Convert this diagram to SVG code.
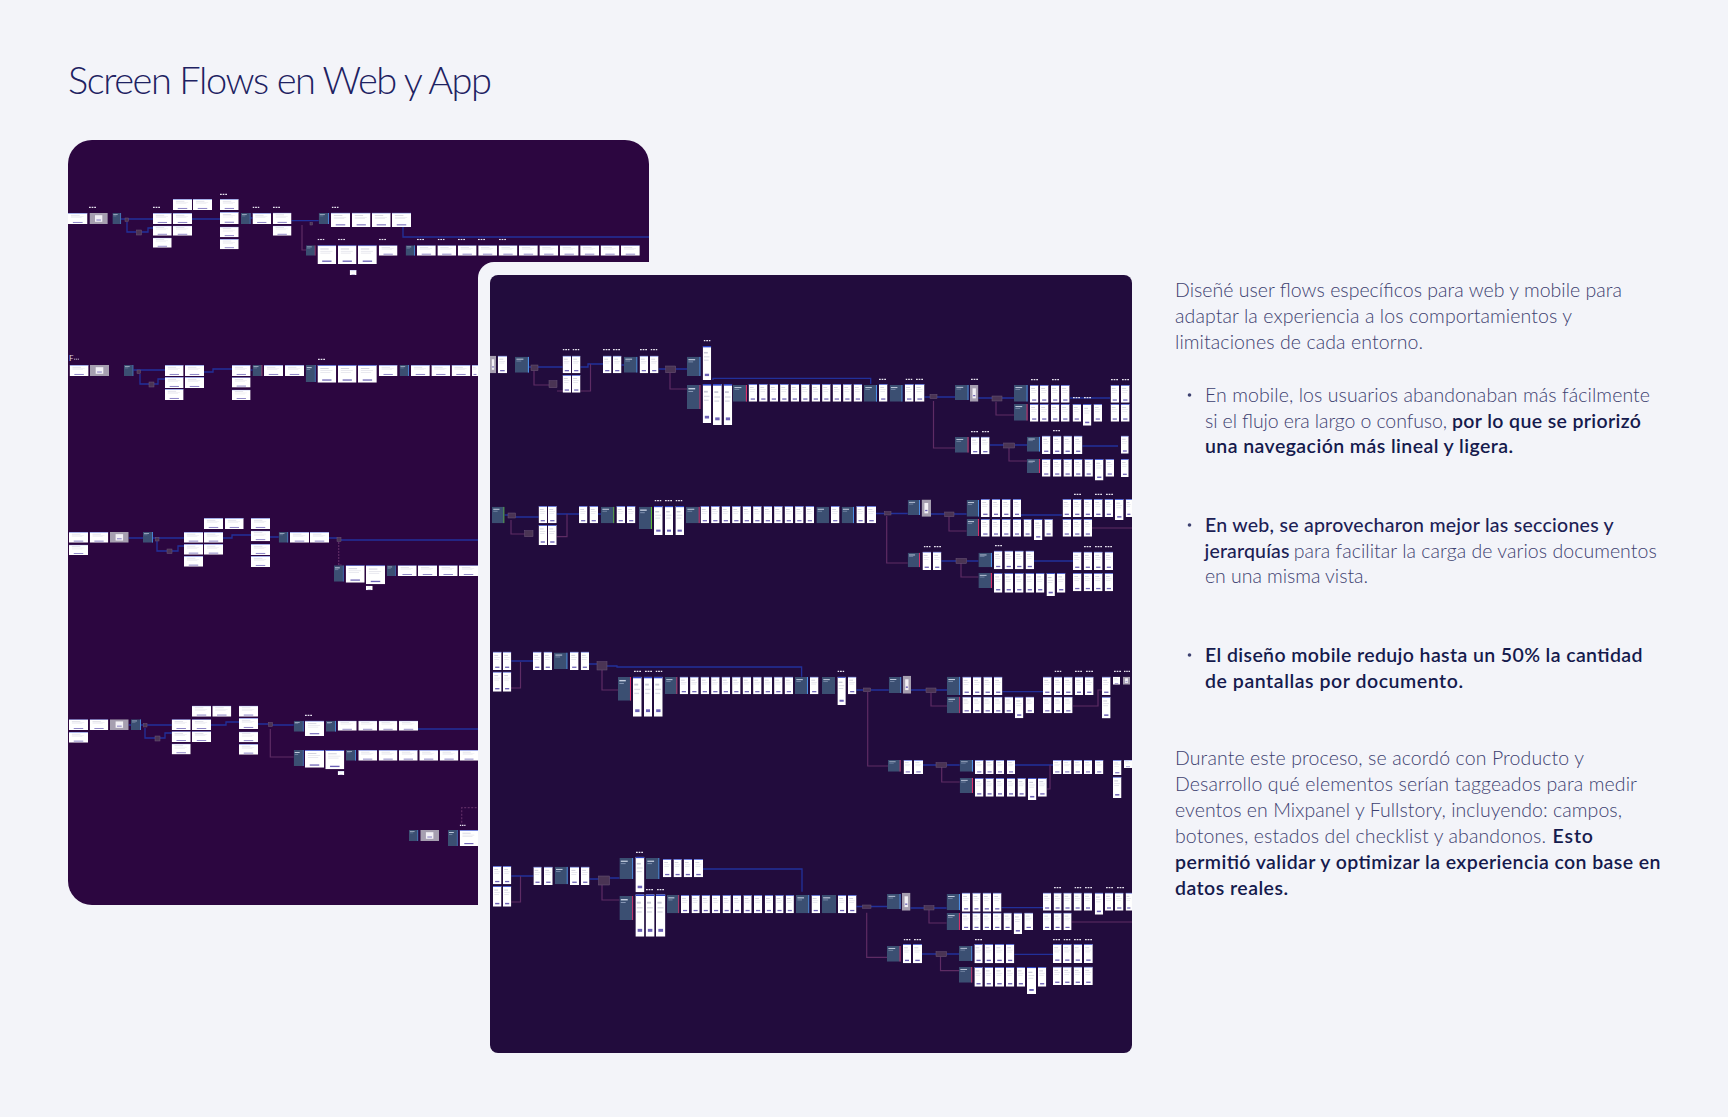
<svg xmlns="http://www.w3.org/2000/svg" width="1728" height="1117" viewBox="0 0 1728 1117">
<style>
.t{font-family:Lato,"Open Sans","Liberation Sans",sans-serif}
.r{font-size:19.5px;font-weight:300;fill:#3d4170}
.b{font-size:19.5px;font-weight:600;fill:#151a4d}
.m{font-size:19.5px;font-weight:500;fill:#1c2155}
.lb{stroke:#22309a;stroke-width:1.3;fill:none}
.lp{stroke:#5e2c64;stroke-width:1.2;fill:none}
.dn{fill:#4a3454;stroke:#6e5878;stroke-width:.5}
.dt{fill:#e6e2ee}
</style>
<defs>
<symbol id="w" viewBox="0 0 20 20" preserveAspectRatio="none">
<rect width="20" height="20" fill="#fff"/>
<rect width="20" height="0.8" fill="#2f45c8"/>
<rect x="3" y="3.5" width="9" height="0.9" fill="#c9c9d6"/>
<rect x="3" y="6" width="13" height="0.7" fill="#dcdce6"/>
<rect x="3" y="8" width="11" height="0.7" fill="#dcdce6"/>
<rect x="5" y="16.3" width="10" height="1.4" fill="#6b60b5"/>
</symbol>
<symbol id="g" viewBox="0 0 20 20" preserveAspectRatio="none">
<rect width="20" height="20" fill="#a69fb0"/>
<rect x="6" y="4" width="8" height="12" fill="#f2f0f5"/>
<rect x="7.5" y="12" width="5" height="1.5" fill="#6b60b5"/>
</symbol>
<symbol id="h" viewBox="0 0 20 20" preserveAspectRatio="none">
<rect width="20" height="20" fill="#3b4f72"/>
<rect x="2" y="2.5" width="10" height="1.2" fill="#c5cfe0"/>
<rect x="2" y="5" width="7" height="0.8" fill="#8a9ab8"/>
</symbol>
<symbol id="hB" viewBox="0 0 20 20" preserveAspectRatio="none">
<rect width="20" height="20" fill="#3b4f72"/>
<rect x="2" y="2.5" width="10" height="1.2" fill="#c5cfe0"/>
<rect x="2" y="5" width="7" height="0.8" fill="#8a9ab8"/>
<rect x="18.4" width="1.6" height="20" fill="#4d8fe6"/>
</symbol>
<symbol id="hR" viewBox="0 0 20 20" preserveAspectRatio="none">
<rect width="20" height="20" fill="#3b4f72"/>
<rect x="2" y="2.5" width="10" height="1.2" fill="#c5cfe0"/>
<rect x="2" y="5" width="7" height="0.8" fill="#8a9ab8"/>
<rect x="18.4" width="1.6" height="20" fill="#d8306a"/>
</symbol>
<symbol id="hG" viewBox="0 0 20 20" preserveAspectRatio="none">
<rect width="20" height="20" fill="#3b4f72"/>
<rect x="2" y="2.5" width="10" height="1.2" fill="#c5cfe0"/>
<rect x="2" y="5" width="7" height="0.8" fill="#8a9ab8"/>
<rect x="18.4" width="1.6" height="20" fill="#5fb83a"/>
</symbol>
<symbol id="d" viewBox="0 0 8 2" preserveAspectRatio="none">
<rect width="2" height="2" fill="#e6e2ee"/><rect x="3" width="2" height="2" fill="#e6e2ee"/><rect x="6" width="2" height="2" fill="#e6e2ee"/>
</symbol>
</defs>

<rect id="page-bg" width="1728" height="1117" fill="#f3f4f9"/>

<g id="title">
<text class="t" x="68" y="94" font-size="38" font-weight="300" fill="#1e2262" textLength="424">Screen Flows en Web y App</text>
</g>

<!-- WEB PANEL -->
<g id="panel-web">
<rect x="68" y="140" width="581" height="765" rx="24" fill="#2c0640"/>
<g id="web-connectors">
<path class="lb" d="M121 219H153M127 222V232H136M141.5 232H148V228H153M192 219H220M250.6 218H252.5M291.5 220.7H318.7M403 227V237H649"/>
<path class="lp" d="M302 225V250H306"/>
<path class="lb" d="M133.5 370H165M140 374V384H149M154 384H158V379H165M204 372H213V369H232M250.6 370H252.5"/>
<path class="lb" d="M128.7 538H143M153 538H184M157 541V551H167M172 551H178V546H184M223 538H232V535H251M270 537H278.7M329 538H337M341 540H478"/>
<path class="lp" d="M338.7 542V565H342" stroke-dasharray="2 1"/>
<path class="lb" d="M128.7 725H131M141 725H171.7M145 728V738H155M160 738H165V733H171.7M211 725H226V722H239M258 724H268.5M272.5 725H293.7M418 729H478"/>
<path class="lp" d="M270.3 729V757H293.7"/>
<path class="lp" d="M461.7 822.7V807.7H478" stroke-dasharray="2 1.5"/>
</g>
<g id="web-screens">
<use href="#w" x="68" y="213" width="19.5" height="11"/>
<use href="#g" x="89.5" y="213" width="18.3" height="11"/>
<use href="#hB" x="112.4" y="213" width="8.8" height="11"/>
<rect class="dn" x="125" y="218" width="3.5" height="3.5"/>
<rect class="dn" x="136.5" y="230" width="5" height="5"/>
<use href="#w" x="153" y="213" width="18.7" height="11"/>
<use href="#w" x="153" y="225.7" width="18.7" height="10"/>
<use href="#w" x="153" y="237.7" width="18.7" height="10"/>
<use href="#w" x="173" y="199" width="19" height="11"/>
<use href="#w" x="173" y="213" width="19" height="11"/>
<use href="#w" x="173" y="225.7" width="19" height="10"/>
<use href="#w" x="193" y="199" width="19" height="11"/>
<use href="#w" x="220" y="199" width="18.7" height="11"/>
<use href="#w" x="220" y="212" width="18.7" height="12"/>
<use href="#w" x="220" y="226.7" width="18.7" height="10.6"/>
<use href="#w" x="220" y="239" width="18.7" height="10.3"/>
<use href="#hB" x="241" y="213" width="9.6" height="11"/>
<use href="#w" x="252.5" y="213" width="18.5" height="11"/>
<use href="#w" x="272.8" y="212.7" width="18.7" height="11.3"/>
<use href="#w" x="272.8" y="225.7" width="18.7" height="10"/>
<rect class="dn" x="310" y="222.5" width="2.5" height="2.5"/>
<use href="#hB" x="318.7" y="213" width="10.3" height="11"/>
<use href="#w" x="331" y="212.7" width="19" height="14.3"/>
<use href="#w" x="352" y="212.7" width="18.5" height="14.3"/>
<use href="#w" x="372" y="212.7" width="18.7" height="14.3"/>
<use href="#w" x="392" y="212.7" width="19" height="14.3"/>
<use href="#d" x="89" y="206.5" width="7" height="1.5"/>
<use href="#d" x="153" y="206.5" width="7" height="1.5"/>
<use href="#d" x="220" y="193.5" width="7" height="1.5"/>
<use href="#d" x="252.5" y="206.5" width="7" height="1.5"/>
<use href="#d" x="273" y="206.5" width="7" height="1.5"/>
<use href="#d" x="331.7" y="206.5" width="7" height="1.5"/>
<use href="#hR" x="306" y="245.3" width="9.6" height="10.4"/>
<use href="#w" x="317.5" y="245.3" width="18.7" height="18.7"/>
<use href="#w" x="338" y="245.3" width="18.5" height="18.7"/>
<use href="#w" x="358" y="245.3" width="18.8" height="18.7"/>
<use href="#w" x="378.8" y="245.3" width="18.7" height="10.4"/>
<use href="#hB" x="405.6" y="245.3" width="9.4" height="10.4"/>
<use href="#w" x="417" y="245.3" width="18.8" height="10.4"/>
<use href="#w" x="437.4" y="245.3" width="18.8" height="10.4"/>
<use href="#w" x="457.8" y="245.3" width="18.8" height="10.4"/>
<use href="#w" x="478.2" y="245.3" width="18.8" height="10.4"/>
<use href="#w" x="498.6" y="245.3" width="18.8" height="10.4"/>
<use href="#w" x="519" y="245.3" width="18.8" height="10.4"/>
<use href="#w" x="539.4" y="245.3" width="18.8" height="10.4"/>
<use href="#w" x="559.8" y="245.3" width="18.8" height="10.4"/>
<use href="#w" x="580.2" y="245.3" width="18.8" height="10.4"/>
<use href="#w" x="600.6" y="245.3" width="18.8" height="10.4"/>
<use href="#w" x="621" y="245.3" width="18.8" height="10.4"/>
<use href="#w" x="349.7" y="270" width="6.9" height="5"/>
<use href="#d" x="317.5" y="238.7" width="7" height="1.5"/>
<use href="#d" x="338" y="238.7" width="7" height="1.5"/>
<use href="#d" x="379" y="238.7" width="7" height="1.5"/>
<use href="#d" x="417" y="238.7" width="7" height="1.5"/>
<use href="#d" x="437.7" y="238.7" width="7" height="1.5"/>
<use href="#d" x="458" y="238.7" width="7" height="1.5"/>
<use href="#d" x="478" y="238.7" width="7" height="1.5"/>
<use href="#d" x="499" y="238.7" width="7" height="1.5"/>
<text class="t" x="69" y="361" font-size="8" fill="#ddd6e6">F</text>
<use href="#d" x="74" y="358.5" width="5" height="1.2"/>
<use href="#w" x="69.6" y="365" width="19" height="11"/>
<use href="#g" x="90" y="365" width="19" height="11"/>
<use href="#hB" x="124" y="365" width="9.5" height="11"/>
<rect class="dn" x="137" y="370" width="3.5" height="3.5"/>
<rect class="dn" x="149" y="382" width="5" height="5"/>
<use href="#w" x="165" y="365" width="18.6" height="11"/>
<use href="#w" x="165" y="377" width="18.6" height="11"/>
<use href="#w" x="165" y="389" width="18.6" height="11"/>
<use href="#w" x="185" y="365" width="19" height="11"/>
<use href="#w" x="185" y="377" width="19" height="11"/>
<use href="#w" x="232" y="365" width="18.6" height="11"/>
<use href="#w" x="232" y="377.3" width="18.6" height="10.3"/>
<use href="#w" x="232" y="389.7" width="18.6" height="10.3"/>
<use href="#hR" x="252.5" y="365" width="10" height="11"/>
<use href="#w" x="264" y="365" width="19" height="11"/>
<use href="#w" x="285" y="365" width="19" height="11"/>
<use href="#hB" x="305.7" y="365" width="10" height="17"/>
<use href="#w" x="317.5" y="365" width="18.7" height="17.7"/>
<use href="#w" x="338" y="365" width="18.5" height="17.7"/>
<use href="#w" x="358" y="365" width="18.8" height="17.7"/>
<use href="#w" x="378.8" y="365" width="18.7" height="11"/>
<use href="#hB" x="399.5" y="365" width="9.5" height="11"/>
<use href="#w" x="411" y="365" width="18.8" height="11"/>
<use href="#w" x="431.4" y="365" width="18.8" height="11"/>
<use href="#w" x="451.6" y="365" width="18.8" height="11"/>
<use href="#w" x="472" y="365" width="6" height="11"/>
<use href="#d" x="318" y="358.5" width="7" height="1.5"/>
<use href="#w" x="69" y="532" width="19" height="10.7"/>
<use href="#w" x="69" y="544.7" width="19" height="10.3"/>
<use href="#w" x="89.7" y="532" width="18.6" height="10.7"/>
<use href="#g" x="110" y="532" width="18.7" height="10.7"/>
<use href="#hB" x="143" y="532" width="10" height="10.7"/>
<rect class="dn" x="155.5" y="537.5" width="3.5" height="3.5"/>
<rect class="dn" x="167" y="549" width="5" height="4.5"/>
<use href="#w" x="184" y="532" width="19" height="10.7"/>
<use href="#w" x="184" y="544" width="19" height="10.7"/>
<use href="#w" x="184" y="556" width="19" height="10.7"/>
<use href="#w" x="204" y="518" width="19" height="11"/>
<use href="#w" x="204" y="532" width="19" height="10.7"/>
<use href="#w" x="204" y="544" width="19" height="10.7"/>
<use href="#w" x="225" y="518" width="18.7" height="11"/>
<use href="#w" x="251" y="518" width="19" height="11"/>
<use href="#w" x="251" y="530.7" width="19" height="10.6"/>
<use href="#w" x="251" y="544" width="19" height="11"/>
<use href="#w" x="251" y="556" width="19" height="11"/>
<use href="#hB" x="278.7" y="532" width="9.6" height="10.7"/>
<use href="#w" x="290" y="532" width="19" height="10.7"/>
<use href="#w" x="310" y="532" width="19" height="10.7"/>
<rect class="dn" x="337" y="537.5" width="4" height="4"/>
<use href="#hB" x="334" y="565.3" width="9.7" height="16.4"/>
<use href="#w" x="345.7" y="565.3" width="19" height="17.4"/>
<use href="#w" x="366" y="565.3" width="19" height="19"/>
<use href="#hB" x="386.7" y="565.3" width="9" height="10.7"/>
<use href="#w" x="397.7" y="565.3" width="19" height="10.7"/>
<use href="#w" x="418" y="565.3" width="19" height="10.7"/>
<use href="#w" x="438.7" y="565.3" width="19" height="10.7"/>
<use href="#w" x="459" y="565.3" width="19" height="10.7"/>
<use href="#w" x="366" y="585.7" width="6.7" height="4.5"/>
<use href="#w" x="69" y="719.3" width="19" height="10.7"/>
<use href="#w" x="69" y="732" width="19" height="10.7"/>
<use href="#w" x="89.7" y="719.3" width="18.6" height="10.7"/>
<use href="#g" x="110" y="719.3" width="18.7" height="10.7"/>
<use href="#hB" x="131" y="719.3" width="10" height="10.7"/>
<rect class="dn" x="143.5" y="723.5" width="3.5" height="3.5"/>
<rect class="dn" x="155" y="736" width="5" height="5"/>
<use href="#w" x="171.7" y="719.3" width="19" height="10.7"/>
<use href="#w" x="171.7" y="731.3" width="19" height="10.7"/>
<use href="#w" x="171.7" y="743.7" width="19" height="10.7"/>
<use href="#w" x="192" y="705.7" width="19" height="11"/>
<use href="#w" x="192" y="719.3" width="19" height="10.7"/>
<use href="#w" x="192" y="731.3" width="19" height="10.7"/>
<use href="#w" x="212.3" y="705.7" width="19" height="11"/>
<use href="#w" x="239" y="705.7" width="19" height="11"/>
<use href="#w" x="239" y="718" width="19" height="11"/>
<use href="#w" x="239" y="731.7" width="19" height="10.6"/>
<use href="#w" x="239" y="744" width="19" height="10.7"/>
<rect class="dn" x="268.5" y="722.5" width="4" height="4"/>
<use href="#hB" x="293.7" y="720.7" width="10" height="11"/>
<use href="#w" x="305" y="720.7" width="19" height="15.3"/>
<use href="#hB" x="326" y="720.7" width="10" height="11"/>
<use href="#w" x="337.7" y="720.7" width="19" height="10"/>
<use href="#w" x="358.3" y="720.7" width="18.7" height="10"/>
<use href="#w" x="378.7" y="720.7" width="18.6" height="10"/>
<use href="#w" x="399" y="720.7" width="19" height="10"/>
<use href="#d" x="305" y="714.5" width="7" height="1.5"/>
<use href="#hB" x="293.7" y="750" width="10" height="16"/>
<use href="#w" x="305" y="750" width="19" height="17.7"/>
<use href="#w" x="325.3" y="750" width="19" height="19.3"/>
<use href="#hB" x="346" y="750" width="10" height="10.7"/>
<use href="#w" x="358.3" y="750" width="18.7" height="10.7"/>
<use href="#w" x="378.7" y="750" width="18.7" height="10.7"/>
<use href="#w" x="399" y="750" width="18.7" height="10.7"/>
<use href="#w" x="419.3" y="750" width="18.7" height="10.7"/>
<use href="#w" x="439.7" y="750" width="18.7" height="10.7"/>
<use href="#w" x="460" y="750" width="18" height="10.7"/>
<use href="#w" x="337.7" y="771" width="6.6" height="4"/>
<use href="#hB" x="409" y="830" width="9.3" height="11"/>
<use href="#g" x="420.3" y="830" width="18.7" height="11"/>
<use href="#hB" x="448" y="830" width="9.7" height="16"/>
<use href="#w" x="459.7" y="830" width="18.3" height="16"/>
<use href="#d" x="459.7" y="824.5" width="6" height="1.5"/>
</g>
</g>

<!-- APP PANEL -->
<g id="panel-app">
<rect x="478" y="262" width="220" height="660" rx="16" fill="#f3f4f9"/>
<rect x="490" y="275" width="642" height="778" rx="8" fill="#220c3d"/>
<g id="app-connectors">
<path class="lb" d="M529 367H531M538 367H562.6M580.5 367H588V364H603M621.5 365H624M658.6 369H665.7M676 369H687M713 380V378.3H870.7V384M924.5 397H930M937 397H955M978.4 398H992M1002 398H1014M1070 398H1110M990 445H1003.7M1015 445H1027M1082.4 446H1118"/>
<path class="lp" d="M534 370.7V385H549M557 391H566M580.5 391H590.5V364M670 372.7V389H687M933.5 401V448H955M996 401.7V415H1014M1009 448V461H1027"/>
<path class="lb" d="M504.5 515H508M515.5 517H538.6M556.7 514H579M598 514H601M876 513.5H884.6M891 513.5H907.7M931 514H944.7M954 514H966.6M1021 515H1062M941.4 561H956M966.6 561H978.4M1034 561H1073"/>
<path class="lp" d="M511 520V534H524.7M556.7 536.7H567V514M949 516.7V531H966.6M1092 528H1132M886.7 516V563H907.7M961 563V577H978.4"/>
<path class="lb" d="M511.3 661H533M589 664H597M607 666H617V667H801.6V676.7M856.4 690H863.5M870.7 690H888.8M911 690H926M936 690H947M1002.4 691.7H1043M923 765H936M946.6 765H959.7M1015 765H1053"/>
<path class="lp" d="M511 688H520.5V662M602 670V690H618M931 693V706H947M1073 706H1098V690H1102M867.7 692V766H888M941.7 767V782H959.7M1046.8 789H1050V765"/>
<path class="lb" d="M511.3 876H533.4M589.5 879H598.5M609.6 878H619.4M703 869H802V891.7M856.5 906.5H862.6M871 906.5H887M910.5 908H924M934 908H946.6M1001.5 907.7H1043M922 954H936M946.6 954H959M1014.3 954.3H1053"/>
<path class="lp" d="M511.3 902H520.5V876M602 885V900H619.4M929 910V923H946.6M1071.6 922H1132M866.7 912.7V957.3H887M940.5 956.7V970.7H959"/>
</g>
<g id="app-screens">
<use href="#g" x="490" y="355.7" width="6" height="17.6"/>
<use href="#w" x="497.8" y="355.7" width="9.2" height="17.6"/>
<use href="#hB" x="515" y="356.7" width="14" height="16"/>
<rect class="dn" x="531" y="365" width="7" height="5.7"/>
<rect class="dn" x="549" y="380.7" width="8" height="7"/>
<use href="#w" x="562.6" y="355.7" width="8.5" height="17.6"/>
<use href="#w" x="572" y="355.7" width="8.5" height="17.6"/>
<use href="#w" x="562.6" y="375" width="8.5" height="17.7"/>
<use href="#w" x="572" y="375" width="8.5" height="17.7"/>
<use href="#w" x="603" y="355.7" width="8.5" height="17.6"/>
<use href="#w" x="613" y="355.7" width="8.5" height="17.6"/>
<use href="#hB" x="624" y="356.7" width="13.5" height="16"/>
<use href="#w" x="639.6" y="355.7" width="8.5" height="17.6"/>
<use href="#w" x="650" y="355.7" width="8.5" height="17.6"/>
<rect class="dn" x="665.7" y="366" width="10" height="6.7"/>
<use href="#hB" x="687" y="356.7" width="13.6" height="19.3"/>
<use href="#w" x="702.7" y="346" width="8.5" height="34"/>
<use href="#d" x="562.6" y="349" width="7" height="1.5"/>
<use href="#d" x="572.5" y="349" width="7" height="1.5"/>
<use href="#d" x="603" y="349" width="7" height="1.5"/>
<use href="#d" x="613" y="349" width="7" height="1.5"/>
<use href="#d" x="640" y="349" width="7" height="1.5"/>
<use href="#d" x="650.5" y="349" width="7" height="1.5"/>
<use href="#d" x="703.6" y="340" width="7" height="1.5"/>
<use href="#hR" x="687" y="385" width="13.6" height="24"/>
<use href="#w" x="702.7" y="384" width="8.5" height="39"/>
<use href="#w" x="713" y="384" width="8.8" height="41"/>
<use href="#w" x="723.7" y="384" width="8.5" height="41"/>
<use href="#hR" x="733" y="385" width="14" height="16.7"/>
<use href="#w" x="748.6" y="384" width="8.5" height="17.7"/>
<use href="#w" x="759.1" y="384" width="8.5" height="17.7"/>
<use href="#w" x="769.6" y="384" width="8.5" height="17.7"/>
<use href="#w" x="780.1" y="384" width="8.5" height="17.7"/>
<use href="#w" x="790.6" y="384" width="8.5" height="17.7"/>
<use href="#w" x="801.1" y="384" width="8.5" height="17.7"/>
<use href="#w" x="811.6" y="384" width="8.5" height="17.7"/>
<use href="#w" x="822.1" y="384" width="8.5" height="17.7"/>
<use href="#w" x="832.6" y="384" width="8.5" height="17.7"/>
<use href="#w" x="843.1" y="384" width="8.5" height="17.7"/>
<use href="#w" x="853.6" y="384" width="8.5" height="17.7"/>
<use href="#hB" x="864" y="385" width="13" height="16.7"/>
<use href="#w" x="879" y="384" width="8.5" height="17.7"/>
<use href="#hB" x="889.6" y="385" width="13" height="16.7"/>
<use href="#w" x="904.8" y="384" width="8.8" height="17.7"/>
<use href="#w" x="915" y="384" width="9.5" height="17.7"/>
<use href="#d" x="879" y="378.5" width="7" height="1.5"/>
<use href="#d" x="905.5" y="378.5" width="7" height="1.5"/>
<use href="#d" x="916" y="378.5" width="7" height="1.5"/>
<rect class="dn" x="930" y="394.5" width="7" height="4"/>
<use href="#hB" x="955" y="385" width="13.7" height="15"/>
<use href="#g" x="970" y="385" width="8.4" height="16.7"/>
<use href="#d" x="971" y="378.5" width="7" height="1.5"/>
<rect class="dn" x="992" y="396" width="10" height="5"/>
<use href="#hB" x="1014" y="385" width="13.7" height="16.7"/>
<use href="#w" x="1030" y="385" width="8.4" height="17.7"/>
<use href="#w" x="1040" y="385" width="8.5" height="17.7"/>
<use href="#w" x="1051" y="385" width="8.4" height="17.7"/>
<use href="#w" x="1061" y="385" width="8.6" height="17.7"/>
<use href="#d" x="1031" y="379" width="7" height="1.5"/>
<use href="#d" x="1052" y="379" width="7" height="1.5"/>
<use href="#hR" x="1014" y="404" width="13.7" height="16.7"/>
<use href="#w" x="1030" y="404" width="8.4" height="17.7"/>
<use href="#w" x="1040" y="404" width="8.5" height="17.7"/>
<use href="#w" x="1051" y="404" width="8.4" height="17.7"/>
<use href="#w" x="1061" y="404" width="8.6" height="17.7"/>
<use href="#w" x="1072.6" y="404" width="8.4" height="17.7"/>
<use href="#w" x="1083" y="404" width="8.4" height="21.7"/>
<use href="#w" x="1093.6" y="404" width="8.4" height="17.7"/>
<use href="#d" x="1073" y="397" width="7" height="1.5"/>
<use href="#d" x="1084" y="397" width="7" height="1.5"/>
<use href="#w" x="1110.6" y="385" width="8.4" height="17.7"/>
<use href="#w" x="1121" y="385" width="8.6" height="17.7"/>
<use href="#w" x="1110.6" y="404" width="8.4" height="17.7"/>
<use href="#w" x="1121" y="404" width="8.6" height="17.7"/>
<use href="#d" x="1111" y="379" width="7" height="1.5"/>
<use href="#d" x="1122" y="379" width="7" height="1.5"/>
<use href="#hR" x="955" y="437" width="13.7" height="15.7"/>
<use href="#w" x="971" y="436.7" width="8.4" height="17.6"/>
<use href="#w" x="981" y="436.7" width="8.6" height="17.6"/>
<use href="#d" x="971" y="431" width="7" height="1.5"/>
<use href="#d" x="982" y="431" width="7" height="1.5"/>
<rect class="dn" x="1003.7" y="443" width="11" height="5"/>
<use href="#hB" x="1027" y="436.7" width="13" height="15"/>
<use href="#w" x="1042" y="435.7" width="8.5" height="18.3"/>
<use href="#w" x="1053" y="435.7" width="8.4" height="18.3"/>
<use href="#w" x="1063.4" y="435.7" width="8.5" height="18.3"/>
<use href="#w" x="1074" y="435.7" width="8.4" height="18.3"/>
<use href="#d" x="1053" y="430" width="7" height="1.5"/>
<use href="#hR" x="1027" y="459" width="13" height="14"/>
<use href="#w" x="1042" y="459" width="8.5" height="17.7"/>
<use href="#w" x="1053" y="459" width="8.4" height="17.7"/>
<use href="#w" x="1063.4" y="459" width="8.5" height="17.7"/>
<use href="#w" x="1074" y="459" width="8.4" height="17.7"/>
<use href="#w" x="1084.5" y="459" width="8.4" height="17.7"/>
<use href="#w" x="1095" y="459" width="8.5" height="21.5"/>
<use href="#w" x="1105.5" y="459" width="8.5" height="17.7"/>
<use href="#w" x="1121" y="435.7" width="7.7" height="18"/>
<use href="#w" x="1121" y="459" width="7.7" height="18"/>
<use href="#hG" x="492" y="506.7" width="12.5" height="16.6"/>
<rect class="dn" x="508" y="513" width="7.5" height="5"/>
<rect class="dn" x="524.7" y="530.7" width="8.3" height="6"/>
<use href="#w" x="538.6" y="506" width="8.4" height="17.3"/>
<use href="#w" x="548" y="506" width="8.7" height="17.3"/>
<use href="#w" x="538.6" y="525" width="8.4" height="20"/>
<use href="#w" x="548" y="525" width="8.7" height="20"/>
<use href="#w" x="579" y="506" width="8.4" height="17.3"/>
<use href="#w" x="589.5" y="506" width="8.5" height="17.3"/>
<use href="#hG" x="601" y="506.7" width="13.4" height="16.6"/>
<use href="#w" x="616.5" y="506" width="8.5" height="17.3"/>
<use href="#w" x="627" y="506" width="8.4" height="17.3"/>
<use href="#hG" x="638.8" y="506.7" width="13.2" height="22.3"/>
<use href="#w" x="654" y="506" width="8.7" height="29"/>
<use href="#w" x="665" y="506" width="8" height="29"/>
<use href="#w" x="675.4" y="506" width="8.6" height="29"/>
<use href="#d" x="654.5" y="500" width="7" height="1.5"/>
<use href="#d" x="665" y="500" width="7" height="1.5"/>
<use href="#d" x="675.5" y="500" width="7" height="1.5"/>
<use href="#hR" x="686" y="506.7" width="13.8" height="16.6"/>
<use href="#w" x="700.6" y="506" width="8.5" height="17.3"/>
<use href="#w" x="711.1" y="506" width="8.5" height="17.3"/>
<use href="#w" x="721.6" y="506" width="8.5" height="17.3"/>
<use href="#w" x="732.1" y="506" width="8.5" height="17.3"/>
<use href="#w" x="742.6" y="506" width="8.5" height="17.3"/>
<use href="#w" x="753.1" y="506" width="8.5" height="17.3"/>
<use href="#w" x="763.6" y="506" width="8.5" height="17.3"/>
<use href="#w" x="774.1" y="506" width="8.5" height="17.3"/>
<use href="#w" x="784.6" y="506" width="8.5" height="17.3"/>
<use href="#w" x="795.1" y="506" width="8.5" height="17.3"/>
<use href="#w" x="805.6" y="506" width="8.5" height="17.3"/>
<use href="#h" x="816.4" y="506.7" width="12.6" height="16.6"/>
<use href="#w" x="831" y="506" width="8.5" height="17.3"/>
<use href="#hB" x="841.6" y="506.7" width="12.4" height="16.6"/>
<use href="#w" x="856.4" y="506" width="8.4" height="17.3"/>
<use href="#w" x="867" y="506" width="9" height="17.3"/>
<rect class="dn" x="884.6" y="511.7" width="6.4" height="3.3"/>
<use href="#hB" x="907.7" y="500" width="12.3" height="15"/>
<use href="#g" x="921.6" y="499.5" width="9.4" height="17.3"/>
<rect class="dn" x="944.7" y="512" width="9.3" height="4.7"/>
<use href="#hB" x="966.6" y="500" width="12.4" height="16.7"/>
<use href="#w" x="981" y="499" width="8.7" height="18"/>
<use href="#w" x="992" y="499" width="8" height="18"/>
<use href="#w" x="1002" y="499" width="8.6" height="18"/>
<use href="#w" x="1013" y="499" width="8" height="18"/>
<use href="#hR" x="966.6" y="519" width="12.4" height="17"/>
<use href="#w" x="981" y="519" width="8.7" height="17.7"/>
<use href="#w" x="992" y="519" width="8" height="17.7"/>
<use href="#w" x="1002" y="519" width="8.6" height="17.7"/>
<use href="#w" x="1013" y="519" width="8" height="17.7"/>
<use href="#w" x="1023.6" y="519" width="8" height="17.7"/>
<use href="#w" x="1034" y="519" width="8.4" height="21"/>
<use href="#w" x="1044.4" y="519" width="8.4" height="17.7"/>
<use href="#w" x="1062.6" y="499" width="8.4" height="18"/>
<use href="#w" x="1073" y="499" width="8.5" height="18"/>
<use href="#w" x="1083.7" y="499" width="8.3" height="18"/>
<use href="#w" x="1094" y="499" width="8.6" height="18"/>
<use href="#w" x="1104.7" y="499" width="8.3" height="18"/>
<use href="#w" x="1115" y="499" width="8.6" height="21"/>
<use href="#w" x="1125.7" y="499" width="6.3" height="18"/>
<use href="#w" x="1062.6" y="519" width="8.4" height="17.7"/>
<use href="#w" x="1073" y="519" width="8.5" height="17.7"/>
<use href="#w" x="1083.7" y="519" width="8.3" height="17.7"/>
<use href="#d" x="1074" y="493.5" width="7" height="1.5"/>
<use href="#d" x="1095" y="493.5" width="7" height="1.5"/>
<use href="#d" x="1106" y="493.5" width="7" height="1.5"/>
<use href="#hR" x="907.7" y="552.7" width="12.3" height="14.6"/>
<use href="#w" x="922.5" y="551.7" width="8.5" height="18.3"/>
<use href="#w" x="933" y="551.7" width="8.4" height="18.3"/>
<use href="#d" x="923.7" y="546" width="7" height="1.5"/>
<use href="#d" x="934" y="546" width="7" height="1.5"/>
<rect class="dn" x="956" y="558.5" width="10.6" height="5"/>
<use href="#hB" x="978.4" y="552.7" width="13.6" height="14.6"/>
<use href="#w" x="994" y="550.7" width="8.4" height="18.6"/>
<use href="#w" x="1004.5" y="550.7" width="8.5" height="18.6"/>
<use href="#w" x="1015" y="550.7" width="8.6" height="18.6"/>
<use href="#w" x="1025.6" y="550.7" width="8.4" height="18.6"/>
<use href="#d" x="995" y="545" width="7" height="1.5"/>
<use href="#hR" x="978.4" y="573" width="13.6" height="15"/>
<use href="#w" x="994" y="573" width="8.4" height="19.7"/>
<use href="#w" x="1004.5" y="573" width="8.5" height="19.7"/>
<use href="#w" x="1015" y="573" width="8.6" height="19.7"/>
<use href="#w" x="1025.6" y="573" width="8.4" height="19.7"/>
<use href="#w" x="1036" y="573" width="8.4" height="19.7"/>
<use href="#w" x="1046.5" y="573" width="8.4" height="23"/>
<use href="#w" x="1057" y="573" width="8.4" height="19.7"/>
<use href="#w" x="1073" y="551.7" width="8.5" height="18.3"/>
<use href="#w" x="1083.7" y="551.7" width="8.3" height="18.3"/>
<use href="#w" x="1094" y="551.7" width="8.6" height="18.3"/>
<use href="#w" x="1104.7" y="551.7" width="8.3" height="18.3"/>
<use href="#w" x="1073" y="573" width="8.5" height="18.3"/>
<use href="#w" x="1083.7" y="573" width="8.3" height="18.3"/>
<use href="#w" x="1094" y="573" width="8.6" height="18.3"/>
<use href="#w" x="1104.7" y="573" width="8.3" height="18.3"/>
<use href="#d" x="1084" y="546" width="7" height="1.5"/>
<use href="#d" x="1095" y="546" width="7" height="1.5"/>
<use href="#d" x="1105" y="546" width="7" height="1.5"/>
<use href="#w" x="493" y="651.7" width="8.6" height="18.3"/>
<use href="#w" x="503" y="651.7" width="8.3" height="18.3"/>
<use href="#w" x="493" y="671.7" width="8.6" height="20"/>
<use href="#w" x="503" y="671.7" width="8.3" height="20"/>
<use href="#w" x="533" y="651.7" width="8.5" height="18.3"/>
<use href="#w" x="543.6" y="651.7" width="8.4" height="18.3"/>
<use href="#hB" x="554" y="652.5" width="13.6" height="16.6"/>
<use href="#w" x="570" y="651.7" width="8.6" height="18.3"/>
<use href="#w" x="580.7" y="651.7" width="8.3" height="18.3"/>
<rect class="dn" x="597" y="661.7" width="10" height="8.3"/>
<use href="#hR" x="618" y="677" width="13" height="23.7"/>
<use href="#w" x="633" y="676.7" width="8.7" height="40"/>
<use href="#w" x="644" y="676.7" width="8" height="40"/>
<use href="#w" x="654" y="676.7" width="8.7" height="40"/>
<use href="#d" x="634" y="670.5" width="7" height="1.5"/>
<use href="#d" x="645" y="670.5" width="7" height="1.5"/>
<use href="#d" x="655.5" y="670.5" width="7" height="1.5"/>
<use href="#hR" x="665" y="677" width="12.5" height="17"/>
<use href="#w" x="679.6" y="676.7" width="8.5" height="17.6"/>
<use href="#w" x="690.1" y="676.7" width="8.5" height="17.6"/>
<use href="#w" x="700.6" y="676.7" width="8.5" height="17.6"/>
<use href="#w" x="711.1" y="676.7" width="8.5" height="17.6"/>
<use href="#w" x="721.6" y="676.7" width="8.5" height="17.6"/>
<use href="#w" x="732.1" y="676.7" width="8.5" height="17.6"/>
<use href="#w" x="742.6" y="676.7" width="8.5" height="17.6"/>
<use href="#w" x="753.1" y="676.7" width="8.5" height="17.6"/>
<use href="#w" x="763.6" y="676.7" width="8.5" height="17.6"/>
<use href="#w" x="774.1" y="676.7" width="8.5" height="17.6"/>
<use href="#w" x="784.6" y="676.7" width="8.5" height="17.6"/>
<use href="#hB" x="795" y="677" width="13" height="17"/>
<use href="#w" x="810" y="676.7" width="8.5" height="17.6"/>
<use href="#h" x="822" y="677" width="13" height="17"/>
<use href="#w" x="837.4" y="676.7" width="8.4" height="28.3"/>
<use href="#w" x="848" y="676.7" width="8.4" height="17.6"/>
<use href="#d" x="837.4" y="670.5" width="7" height="1.5"/>
<rect class="dn" x="863.5" y="688" width="7.2" height="3.7"/>
<use href="#hB" x="888.8" y="677" width="12.6" height="16"/>
<use href="#g" x="902.7" y="675.7" width="8.3" height="18"/>
<rect class="dn" x="926" y="688" width="10" height="4.7"/>
<use href="#hB" x="947" y="676.7" width="13.3" height="18.3"/>
<use href="#w" x="962.4" y="676.7" width="8.6" height="18.3"/>
<use href="#w" x="973" y="676.7" width="8.4" height="18.3"/>
<use href="#w" x="983.4" y="676.7" width="8.6" height="18.3"/>
<use href="#w" x="994" y="676.7" width="8.4" height="18.3"/>
<use href="#hR" x="947" y="696.7" width="13.3" height="16.6"/>
<use href="#w" x="962.4" y="696.7" width="8.6" height="16.6"/>
<use href="#w" x="973" y="696.7" width="8.4" height="16.6"/>
<use href="#w" x="983.4" y="696.7" width="8.6" height="16.6"/>
<use href="#w" x="994" y="696.7" width="8.4" height="16.6"/>
<use href="#w" x="1004.5" y="696.7" width="8.5" height="16.6"/>
<use href="#w" x="1015" y="696.7" width="8.4" height="21.6"/>
<use href="#w" x="1025.6" y="696.7" width="8.4" height="16.6"/>
<use href="#w" x="1043" y="676.7" width="8.6" height="18.3"/>
<use href="#w" x="1054" y="676.7" width="8" height="18.3"/>
<use href="#w" x="1064" y="676.7" width="8.6" height="18.3"/>
<use href="#w" x="1075" y="676.7" width="8" height="18.3"/>
<use href="#w" x="1085" y="676.7" width="8.6" height="18.3"/>
<use href="#w" x="1043" y="696.7" width="8.6" height="16.6"/>
<use href="#w" x="1054" y="696.7" width="8" height="16.6"/>
<use href="#w" x="1064" y="696.7" width="8.6" height="16.6"/>
<use href="#w" x="1102" y="676.7" width="8.6" height="18.3"/>
<use href="#w" x="1102" y="696.7" width="8.6" height="21.7"/>
<use href="#w" x="1113" y="676.7" width="7" height="8"/>
<use href="#g" x="1123" y="676.7" width="7" height="8"/>
<use href="#d" x="1054.5" y="670.5" width="7" height="1.5"/>
<use href="#d" x="1075" y="670.5" width="7" height="1.5"/>
<use href="#d" x="1086" y="670.5" width="7" height="1.5"/>
<use href="#d" x="1114" y="670.5" width="7" height="1.5"/>
<use href="#d" x="1124" y="670.5" width="6" height="1.5"/>
<use href="#hR" x="888" y="760" width="12.7" height="11.7"/>
<use href="#w" x="903.6" y="760" width="8.4" height="14"/>
<use href="#w" x="914" y="760" width="9" height="14"/>
<rect class="dn" x="936" y="762.7" width="10.6" height="4.6"/>
<use href="#hB" x="959.7" y="760" width="13.3" height="11.7"/>
<use href="#w" x="975" y="760" width="8.5" height="14"/>
<use href="#w" x="985.5" y="760" width="8.2" height="14"/>
<use href="#w" x="996" y="760" width="8" height="14"/>
<use href="#w" x="1007" y="760" width="8" height="14"/>
<use href="#hR" x="959.7" y="778" width="13.3" height="15"/>
<use href="#w" x="975" y="778" width="8.5" height="18.7"/>
<use href="#w" x="985.5" y="778" width="8.2" height="18.7"/>
<use href="#w" x="996" y="778" width="8" height="18.7"/>
<use href="#w" x="1007" y="778" width="8" height="18.7"/>
<use href="#w" x="1017.5" y="778" width="8.2" height="18.7"/>
<use href="#w" x="1028" y="778" width="8.4" height="22"/>
<use href="#w" x="1038" y="778" width="8.8" height="18.7"/>
<use href="#w" x="1053" y="760" width="8.6" height="14"/>
<use href="#w" x="1063" y="760" width="8.5" height="14"/>
<use href="#w" x="1073.6" y="760" width="8.4" height="14"/>
<use href="#w" x="1084" y="760" width="8" height="14"/>
<use href="#w" x="1095" y="760" width="8.4" height="14"/>
<use href="#w" x="1113" y="760" width="8.5" height="15"/>
<use href="#w" x="1113" y="776.7" width="8.5" height="21.3"/>
<use href="#w" x="1124" y="760" width="8" height="8"/>
<use href="#w" x="493" y="866" width="8.5" height="18.3"/>
<use href="#w" x="503" y="866" width="8.3" height="18.3"/>
<use href="#w" x="493" y="886" width="8.5" height="20.7"/>
<use href="#w" x="503" y="886" width="8.3" height="20.7"/>
<use href="#w" x="533.4" y="866.7" width="8.2" height="18.3"/>
<use href="#w" x="544" y="866.7" width="8.7" height="18.3"/>
<use href="#hB" x="554.7" y="866.7" width="13.1" height="17.6"/>
<use href="#w" x="570" y="866.7" width="9" height="18.3"/>
<use href="#w" x="581" y="866.7" width="8.5" height="18.3"/>
<rect class="dn" x="598.5" y="876" width="11" height="9"/>
<use href="#hB" x="619.4" y="858" width="13.9" height="21"/>
<use href="#w" x="635.4" y="856.7" width="9" height="35.6"/>
<use href="#hB" x="646" y="858" width="13.5" height="21"/>
<use href="#w" x="663" y="859" width="8.4" height="18.3"/>
<use href="#w" x="673.5" y="859" width="8.2" height="18.3"/>
<use href="#w" x="683.7" y="859" width="8.3" height="18.3"/>
<use href="#w" x="694" y="859" width="9" height="18.3"/>
<use href="#d" x="636" y="851.5" width="7" height="1.5"/>
<use href="#hR" x="619.4" y="896" width="13.9" height="24"/>
<use href="#w" x="635.4" y="894.3" width="9" height="42.4"/>
<use href="#w" x="645.6" y="894.3" width="9" height="42.4"/>
<use href="#w" x="656" y="894.3" width="9.4" height="42.4"/>
<use href="#d" x="646" y="889" width="7" height="1.5"/>
<use href="#d" x="657" y="889" width="7" height="1.5"/>
<use href="#hR" x="667" y="895" width="12.3" height="18.3"/>
<use href="#w" x="681" y="895" width="8.2" height="18.3"/>
<use href="#w" x="691.5" y="895" width="8.2" height="18.3"/>
<use href="#w" x="701.7" y="895" width="8.2" height="18.3"/>
<use href="#w" x="712" y="895" width="8.2" height="18.3"/>
<use href="#w" x="722.6" y="895" width="8.2" height="18.3"/>
<use href="#w" x="733" y="895" width="8.2" height="18.3"/>
<use href="#w" x="743.5" y="895" width="8.2" height="18.3"/>
<use href="#w" x="754" y="895" width="8.2" height="18.3"/>
<use href="#w" x="764.8" y="895" width="8.2" height="18.3"/>
<use href="#w" x="775.4" y="895" width="8.2" height="18.3"/>
<use href="#w" x="785.7" y="895" width="8.2" height="18.3"/>
<use href="#hB" x="796" y="895" width="13.4" height="18.3"/>
<use href="#w" x="811.5" y="895" width="8.5" height="18.3"/>
<use href="#h" x="821.7" y="895" width="14.3" height="18.3"/>
<use href="#w" x="838" y="895" width="8.2" height="18.3"/>
<use href="#w" x="848" y="895" width="8.5" height="18.3"/>
<rect class="dn" x="862.6" y="905" width="8.4" height="3.3"/>
<use href="#hB" x="887" y="894" width="13.7" height="15"/>
<use href="#g" x="902" y="892.7" width="8.5" height="18"/>
<rect class="dn" x="924" y="905.7" width="10" height="4.3"/>
<use href="#hB" x="946.6" y="894" width="13.4" height="16.3"/>
<use href="#w" x="962" y="892.7" width="8.2" height="19"/>
<use href="#w" x="972.4" y="892.7" width="8.2" height="19"/>
<use href="#w" x="982.7" y="892.7" width="8.3" height="19"/>
<use href="#w" x="993" y="892.7" width="8.5" height="19"/>
<use href="#hR" x="946.6" y="913" width="13.4" height="17"/>
<use href="#w" x="962" y="912.7" width="8.2" height="17.3"/>
<use href="#w" x="972.4" y="912.7" width="8.2" height="17.3"/>
<use href="#w" x="982.7" y="912.7" width="8.3" height="17.3"/>
<use href="#w" x="993" y="912.7" width="8.5" height="17.3"/>
<use href="#w" x="1003.5" y="912.7" width="8.2" height="17.3"/>
<use href="#w" x="1013.7" y="912.7" width="8.3" height="21.3"/>
<use href="#w" x="1024.3" y="912.7" width="8.8" height="17.3"/>
<use href="#w" x="1043" y="892.7" width="8.2" height="18"/>
<use href="#w" x="1053.6" y="892.7" width="8" height="18"/>
<use href="#w" x="1063.4" y="892.7" width="8.2" height="18"/>
<use href="#w" x="1073.6" y="892.7" width="8.1" height="18"/>
<use href="#w" x="1084" y="892.7" width="8" height="18"/>
<use href="#w" x="1094.8" y="892.7" width="8.2" height="22"/>
<use href="#w" x="1105" y="892.7" width="8" height="18"/>
<use href="#w" x="1115" y="892.7" width="8.5" height="18"/>
<use href="#w" x="1125.6" y="892.7" width="6.4" height="18"/>
<use href="#w" x="1043" y="912.7" width="8.2" height="17.3"/>
<use href="#w" x="1053.6" y="912.7" width="8" height="17.3"/>
<use href="#w" x="1063.4" y="912.7" width="8.2" height="17.3"/>
<use href="#d" x="1054" y="887" width="7" height="1.5"/>
<use href="#d" x="1074.4" y="887" width="7" height="1.5"/>
<use href="#d" x="1085" y="887" width="7" height="1.5"/>
<use href="#d" x="1106" y="887" width="7" height="1.5"/>
<use href="#d" x="1117" y="887" width="7" height="1.5"/>
<use href="#hR" x="887" y="946" width="13.7" height="15.7"/>
<use href="#w" x="903" y="944" width="8" height="19.3"/>
<use href="#w" x="913" y="944" width="9" height="19.3"/>
<use href="#d" x="903.6" y="939" width="7" height="1.5"/>
<use href="#d" x="914" y="939" width="7" height="1.5"/>
<rect class="dn" x="936" y="951.7" width="10.6" height="5"/>
<use href="#hB" x="959" y="946" width="13.4" height="15"/>
<use href="#w" x="974.4" y="944" width="8.3" height="19.3"/>
<use href="#w" x="984.6" y="944" width="8.4" height="19.3"/>
<use href="#w" x="995" y="944" width="9" height="19.3"/>
<use href="#w" x="1006" y="944" width="8.3" height="19.3"/>
<use href="#d" x="975" y="939" width="7" height="1.5"/>
<use href="#hR" x="959" y="967" width="13.4" height="15.7"/>
<use href="#w" x="974.4" y="967" width="8.3" height="19.7"/>
<use href="#w" x="984.6" y="967" width="8.4" height="19.7"/>
<use href="#w" x="995" y="967" width="9" height="19.7"/>
<use href="#w" x="1006" y="967" width="8.3" height="19.7"/>
<use href="#w" x="1016.7" y="967" width="8.3" height="19.7"/>
<use href="#w" x="1027" y="967" width="9" height="27"/>
<use href="#w" x="1038" y="967" width="8.3" height="19.7"/>
<use href="#w" x="1053" y="944" width="8.6" height="19"/>
<use href="#w" x="1063" y="944" width="8.6" height="19"/>
<use href="#w" x="1073.6" y="944" width="8.4" height="19"/>
<use href="#w" x="1084" y="944" width="8.8" height="19"/>
<use href="#w" x="1053" y="966.7" width="8.6" height="18.3"/>
<use href="#w" x="1063" y="966.7" width="8.6" height="18.3"/>
<use href="#w" x="1073.6" y="966.7" width="8.4" height="18.3"/>
<use href="#w" x="1084" y="966.7" width="8.8" height="18.3"/>
<use href="#d" x="1053" y="939" width="7" height="1.5"/>
<use href="#d" x="1063.5" y="939" width="7" height="1.5"/>
<use href="#d" x="1074" y="939" width="7" height="1.5"/>
<use href="#d" x="1085" y="939" width="7" height="1.5"/>
</g>
</g>

<g id="description" class="t">
<text class="r" x="1175" y="297" textLength="447">Diseñé user flows específicos para web y mobile para</text>
<text class="r" x="1175" y="323" textLength="397">adaptar la experiencia a los comportamientos y</text>
<text class="r" x="1175" y="349" textLength="248">limitaciones de cada entorno.</text>
<circle cx="1189.5" cy="395" r="1.8" fill="#3d4170"/>
<text class="r" x="1205" y="402" textLength="445">En mobile, los usuarios abandonaban más fácilmente</text>
<text class="r" x="1205" y="428" textLength="242">si el flujo era largo o confuso,</text>
<text class="b" x="1452" y="428" textLength="189">por lo que se priorizó</text>
<text class="b" x="1205" y="453" textLength="308">una navegación más lineal y ligera.</text>
<circle cx="1189.5" cy="525" r="1.8" fill="#3d4170"/>
<text class="m" x="1205" y="532" textLength="408.7">En web, se aprovecharon mejor las secciones y</text>
<text class="m" x="1204.5" y="558" textLength="85">jerarquías</text>
<text class="r" x="1293.7" y="558" textLength="363">para facilitar la carga de varios documentos</text>
<text class="r" x="1205" y="583" textLength="163">en una misma vista.</text>
<circle cx="1189.5" cy="655" r="1.8" fill="#3d4170"/>
<text class="b" x="1205" y="662" textLength="437.5">El diseño mobile redujo hasta un 50% la cantidad</text>
<text class="b" x="1205" y="688" textLength="258">de pantallas por documento.</text>
<text class="r" x="1175" y="765" textLength="409">Durante este proceso, se acordó con Producto y</text>
<text class="r" x="1175" y="791" textLength="462">Desarrollo qué elementos serían taggeados para medir</text>
<text class="r" x="1175" y="817" textLength="447">eventos en Mixpanel y Fullstory, incluyendo: campos,</text>
<text class="r" x="1175" y="843" textLength="371">botones, estados del checklist y abandonos.</text>
<text class="b" x="1552.5" y="843" textLength="40.5">Esto</text>
<text class="b" x="1175" y="869" textLength="485.5">permitió validar y optimizar la experiencia con base en</text>
<text class="b" x="1175" y="895" textLength="113">datos reales.</text>
</g>
</svg>
